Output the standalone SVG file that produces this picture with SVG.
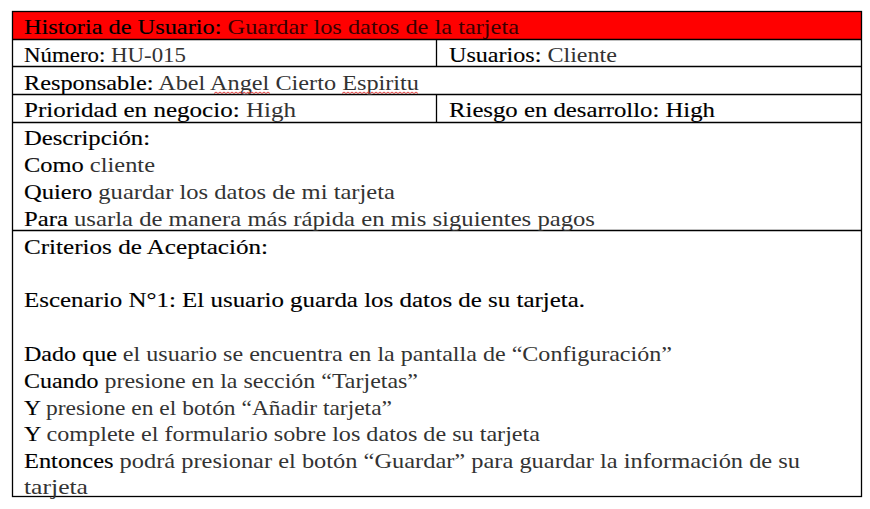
<svg xmlns="http://www.w3.org/2000/svg" width="870" height="509" viewBox="0 0 870 509">
<style>
text{font-family:"Liberation Serif","Times New Roman",serif;font-size:22px;fill:#333}
.k{fill:#000;stroke:#000;stroke-width:0.15}
.t{fill:#3a0000}
.ln{stroke:#000;stroke-width:1.3;fill:none}
.sq{stroke:#e03030;stroke-width:0.9;fill:none}
</style>
<rect x="0" y="0" width="870" height="509" fill="#fff"/>
<g id="title-row">
<rect x="12.5" y="11.5" width="849" height="28" fill="#ff0000"/>
<text x="24" y="34" textLength="495" lengthAdjust="spacingAndGlyphs"><tspan class="k">Historia de Usuario:</tspan><tspan class="t"> Guardar los datos de la tarjeta</tspan></text>
</g>
<g id="table-lines">
<rect class="ln" x="12.5" y="11.5" width="849" height="485"/>
<line class="ln" x1="12.5" y1="39.5" x2="861.5" y2="39.5"/>
<line class="ln" x1="12.5" y1="66.5" x2="861.5" y2="66.5"/>
<line class="ln" x1="12.5" y1="94.5" x2="861.5" y2="94.5"/>
<line class="ln" x1="12.5" y1="122.5" x2="861.5" y2="122.5"/>
<line class="ln" x1="12.5" y1="230.5" x2="861.5" y2="230.5"/>
<line class="ln" x1="436.5" y1="39.5" x2="436.5" y2="66.5"/>
<line class="ln" x1="436.5" y1="94.5" x2="436.5" y2="122.5"/>
</g>
<g id="numero">
<text x="24" y="62" textLength="162" lengthAdjust="spacingAndGlyphs"><tspan class="k">Número:</tspan> HU-015</text>
</g>
<g id="usuarios">
<text x="449" y="62" textLength="168" lengthAdjust="spacingAndGlyphs"><tspan class="k">Usuarios:</tspan> Cliente</text>
</g>
<g id="responsable">
<text x="24" y="90" textLength="395" lengthAdjust="spacingAndGlyphs"><tspan class="k">Responsable:</tspan> Abel Angel Cierto Espiritu</text>
<path class="sq" d="M214 93.5 l2 -1.5 l2 1.5 l2 -1.5 l2 1.5 l2 -1.5 l2 1.5 l2 -1.5 l2 1.5 l2 -1.5 l2 1.5 l2 -1.5 l2 1.5 l2 -1.5 l2 1.5 l2 -1.5 l2 1.5 l2 -1.5 l2 1.5 l2 -1.5 l2 1.5 l2 -1.5 l2 1.5 l2 -1.5 l2 1.5 l2 -1.5 l2 1.5 l2 -1.5 l2 1.5"/>
<path class="sq" d="M342 93.5 l2 -1.5 l2 1.5 l2 -1.5 l2 1.5 l2 -1.5 l2 1.5 l2 -1.5 l2 1.5 l2 -1.5 l2 1.5 l2 -1.5 l2 1.5 l2 -1.5 l2 1.5 l2 -1.5 l2 1.5 l2 -1.5 l2 1.5 l2 -1.5 l2 1.5 l2 -1.5 l2 1.5 l2 -1.5 l2 1.5 l2 -1.5 l2 1.5 l2 -1.5 l2 1.5 l2 -1.5 l2 1.5 l2 -1.5 l2 1.5 l2 -1.5 l2 1.5 l2 -1.5 l2 1.5 l2 -1.5 l2 1.5"/>
</g>
<g id="prioridad">
<text x="24" y="117" textLength="272" lengthAdjust="spacingAndGlyphs"><tspan class="k">Prioridad en negocio:</tspan> High</text>
</g>
<g id="riesgo">
<text x="449" y="117" textLength="266" lengthAdjust="spacingAndGlyphs" class="k">Riesgo en desarrollo: High</text>
</g>
<g id="descripcion">
<text x="24" y="145" textLength="126" lengthAdjust="spacingAndGlyphs" class="k">Descripción:</text>
<text x="24" y="172" textLength="131" lengthAdjust="spacingAndGlyphs"><tspan class="k">Como</tspan> cliente</text>
<text x="24" y="199" textLength="371" lengthAdjust="spacingAndGlyphs"><tspan class="k">Quiero</tspan> guardar los datos de mi tarjeta</text>
<text x="24" y="226" textLength="571" lengthAdjust="spacingAndGlyphs"><tspan class="k">Para</tspan> usarla de manera más rápida en mis siguientes pagos</text>
</g>
<g id="criterios">
<text x="24" y="254" textLength="244" lengthAdjust="spacingAndGlyphs" class="k">Criterios de Aceptación:</text>
<text x="24" y="307" textLength="561" lengthAdjust="spacingAndGlyphs" class="k">Escenario N°1: El usuario guarda los datos de su tarjeta.</text>
<text x="24" y="361" textLength="648" lengthAdjust="spacingAndGlyphs"><tspan class="k">Dado que</tspan> el usuario se encuentra en la pantalla de “Configuración”</text>
<text x="24" y="388" textLength="394" lengthAdjust="spacingAndGlyphs"><tspan class="k">Cuando</tspan> presione en la sección “Tarjetas”</text>
<text x="24" y="415" textLength="368" lengthAdjust="spacingAndGlyphs"><tspan class="k">Y</tspan> presione en el botón “Añadir tarjeta”</text>
<text x="24" y="441" textLength="516" lengthAdjust="spacingAndGlyphs"><tspan class="k">Y</tspan> complete el formulario sobre los datos de su tarjeta</text>
<text x="24" y="468" textLength="776" lengthAdjust="spacingAndGlyphs"><tspan class="k">Entonces</tspan> podrá presionar el botón “Guardar” para guardar la información de su</text>
<text x="24" y="494" textLength="64" lengthAdjust="spacingAndGlyphs">tarjeta</text>
</g>
</svg>
